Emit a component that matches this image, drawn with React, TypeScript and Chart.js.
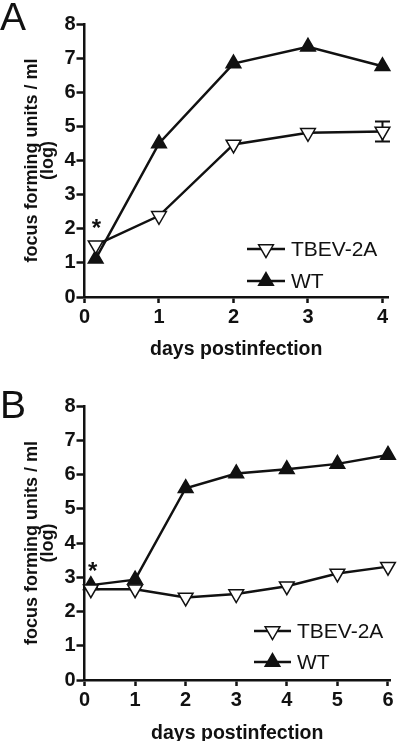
import React, { useEffect, useRef } from "react";
import { Chart, registerables } from "chart.js";
import { drawPoint } from "chart.js/helpers";

Chart.register(...registerables);

// ---------- data ----------
const SERIES_NAMES = ["TBEV-2A", "WT"];
const X_TITLE = "days postinfection";
const Y_TITLE = ["focus forming units / ml", "(log)"];
const Y_TICKS = [0, 1, 2, 3, 4, 5, 6, 7, 8];

const A_DAYS = [0.15, 1, 2, 3, 4];
const A_TBEV = [1.52, 2.38, 4.47, 4.81, 4.85];
const A_TBEV_ERR = [0, 0, 0, 0, 0.29];
const A_WT = [1.12, 4.5, 6.84, 7.33, 6.76];
const A_X_TICKS = [0, 1, 2, 3, 4];
const A_STAR = { x: 0.16, y: 2.2 };

const B_DAYS = [0.125, 1, 2, 3, 4, 5, 6];
const B_TBEV = [2.65, 2.65, 2.41, 2.51, 2.74, 3.11, 3.31];
const B_TBEV_ERR = [0, 0, 0, 0, 0, 0, 0];
const B_WT = [2.77, 2.93, 5.6, 6.03, 6.15, 6.31, 6.57];
const B_X_TICKS = [0, 1, 2, 3, 4, 5, 6];
const B_STAR = { x: 0.16, y: 3.36 };

const FONT = "'Liberation Sans', Arial, Helvetica, sans-serif";
const INK = "#111111";

type PanelProps = {
  days: number[];
  tbev: number[];
  tbevErr: number[];
  wt: number[];
  xTicks: number[];
  star: { x: number; y: number };
  xMax: number;
  top: number;
  padTop: number;
  padRight: number;
  axisH: number;
  legendX: number;
  legendY: number;
  legendLen: number;
  legendGap: number;
  legendTextGap: number;
};

const extrasPlugin = {
  id: "extras",
  beforeDatasetsDraw(chart: any) {
    const ctx = chart.ctx;
    const ys = chart.scales.y;
    chart.data.datasets.forEach((ds: any, di: number) => {
      if (!ds.errors) return;
      const meta = chart.getDatasetMeta(di);
      ds.errors.forEach((e: number, i: number) => {
        if (!e) return;
        const v = ds.data[i].y;
        const x = meta.data[i].x;
        const y1 = ys.getPixelForValue(v + e);
        const y2 = ys.getPixelForValue(v - e);
        ctx.save();
        ctx.strokeStyle = INK;
        ctx.lineWidth = 2;
        ctx.beginPath();
        ctx.moveTo(x, y1);
        ctx.lineTo(x, y2);
        ctx.moveTo(x - 7.5, y1);
        ctx.lineTo(x + 7.5, y1);
        ctx.moveTo(x - 7.5, y2);
        ctx.lineTo(x + 7.5, y2);
        ctx.stroke();
        ctx.restore();
      });
    });
  },
  afterDatasetsDraw(chart: any, _args: any, opts: any) {
    const ctx = chart.ctx;
    const xs = chart.scales.x;
    const ys = chart.scales.y;
    // asterisk
    ctx.save();
    ctx.fillStyle = INK;
    ctx.font = `bold 24px ${FONT}`;
    ctx.textAlign = "center";
    ctx.textBaseline = "alphabetic";
    ctx.fillText("*", xs.getPixelForValue(opts.star.x), ys.getPixelForValue(opts.star.y) + 24 * 0.58);
    ctx.restore();
    // legend
    chart.data.datasets.forEach((ds: any, i: number) => {
      const y = opts.legendY + i * opts.legendGap;
      const x0 = opts.legendX;
      const x1 = x0 + opts.legendLen;
      ctx.save();
      ctx.strokeStyle = INK;
      ctx.lineWidth = 2.5;
      ctx.beginPath();
      ctx.moveTo(x0, y);
      ctx.lineTo(x1, y);
      ctx.stroke();
      ctx.fillStyle = ds.pointBackgroundColor;
      ctx.strokeStyle = INK;
      ctx.lineWidth = ds.pointBorderWidth;
      drawPoint(
        ctx,
        { pointStyle: "triangle", rotation: ds.rotation || 0, radius: ds.pointRadius, borderWidth: ds.pointBorderWidth },
        (x0 + x1) / 2,
        y
      );
      ctx.fillStyle = INK;
      ctx.font = `21px ${FONT}`;
      ctx.textAlign = "left";
      ctx.textBaseline = "middle";
      ctx.fillText(ds.label, x1 + opts.legendTextGap, y + 1);
      ctx.restore();
    });
  },
};

function Panel(p: PanelProps) {
  const ref = useRef<HTMLCanvasElement>(null);
  useEffect(() => {
    if (!ref.current) return;
    const chart = new Chart(ref.current, {
      type: "line",
      data: {
        datasets: [
          {
            label: SERIES_NAMES[0],
            data: p.days.map((d, i) => ({ x: d, y: p.tbev[i] })),
            borderColor: INK,
            borderWidth: 2.5,
            pointStyle: "triangle",
            rotation: 180,
            pointRadius: 8.5,
            pointBackgroundColor: "#ffffff",
            pointBorderColor: INK,
            pointBorderWidth: 1.5,
            clip: false,
            errors: p.tbevErr,
          } as any,
          {
            label: SERIES_NAMES[1],
            data: p.days.map((d, i) => ({ x: d, y: p.wt[i] })),
            borderColor: INK,
            borderWidth: 2.5,
            pointStyle: "triangle",
            rotation: 0,
            pointRadius: 8.5,
            pointBackgroundColor: INK,
            pointBorderColor: INK,
            pointBorderWidth: 1.5,
            clip: false,
          } as any,
        ],
      },
      options: {
        responsive: false,
        animation: false,
        layout: { padding: { top: p.padTop, right: p.padRight, left: 0, bottom: 0 } },
        plugins: {
          legend: { display: false },
          tooltip: { enabled: false },
          extras: {
            star: p.star,
            legendX: p.legendX,
            legendY: p.legendY,
            legendLen: p.legendLen,
            legendGap: p.legendGap,
            legendTextGap: p.legendTextGap,
          },
        } as any,
        scales: {
          x: {
            type: "linear",
            min: 0,
            max: p.xMax,
            afterBuildTicks: (s: any) => {
              s.ticks = p.xTicks.map((v) => ({ value: v }));
            },
            afterFit: (s: any) => {
              s.height = p.axisH;
            },
            ticks: {
              color: INK,
              padding: 2,
              font: { family: FONT, size: 20, weight: "bold" },
              callback: (v: any) => String(v),
            },
            grid: { display: true, drawOnChartArea: false, drawTicks: true, tickLength: 6, tickWidth: 2.5, tickColor: INK },
            border: { display: true, color: INK, width: 2.5 },
            title: {
              display: true,
              text: X_TITLE,
              color: INK,
              font: { family: FONT, size: 19.5, weight: "bold", lineHeight: 1.2 },
              padding: { top: 0, bottom: 9 },
            },
          },
          y: {
            type: "linear",
            min: 0,
            max: 8,
            afterBuildTicks: (s: any) => {
              s.ticks = Y_TICKS.map((v) => ({ value: v }));
            },
            afterFit: (s: any) => {
              s.width = 84.5;
            },
            ticks: {
              color: INK,
              padding: 1,
              font: { family: FONT, size: 20, weight: "bold" },
              callback: (v: any) => String(v),
            },
            grid: { display: true, drawOnChartArea: false, drawTicks: true, tickLength: 8, tickWidth: 2.5, tickColor: INK },
            border: { display: true, color: INK, width: 2.5 },
            title: {
              display: true,
              text: Y_TITLE,
              color: INK,
              font: { family: FONT, size: 18, weight: "bold", lineHeight: 16 / 18 },
              padding: { top: 24, bottom: 0 },
            },
          },
        },
      } as any,
      plugins: [extrasPlugin],
    });
    return () => chart.destroy();
  }, []);
  return (
    <canvas
      ref={ref}
      width={400}
      height={370}
      style={{ position: "absolute", left: 0, top: p.top, width: 400, height: 370 }}
    />
  );
}

export default function App() {
  return (
    <div
      style={{
        position: "fixed",
        left: 0,
        top: 0,
        width: 400,
        height: 741,
        overflow: "hidden",
        background: "#ffffff",
      }}
    >
      <Panel
        days={A_DAYS}
        tbev={A_TBEV}
        tbevErr={A_TBEV_ERR}
        wt={A_WT}
        xTicks={A_X_TICKS}
        star={A_STAR}
        xMax={4.074}
        top={0}
        padTop={24}
        padRight={12}
        axisH={73}
        legendX={247}
        legendY={249}
        legendLen={38}
        legendGap={32}
        legendTextGap={6}
      />
      <Panel
        days={B_DAYS}
        tbev={B_TBEV}
        tbevErr={B_TBEV_ERR}
        wt={B_WT}
        xTicks={B_X_TICKS}
        star={B_STAR}
        xMax={6.04}
        top={384}
        padTop={22}
        padRight={7}
        axisH={74}
        legendX={254}
        legendY={247}
        legendLen={37}
        legendGap={31}
        legendTextGap={6}
      />
      <div
        style={{
          position: "absolute",
          left: 0,
          top: -3,
          font: `39px ${FONT}`,
          lineHeight: 1,
          color: INK,
        }}
      >
        A
      </div>
      <div
        style={{
          position: "absolute",
          left: 0,
          top: 385,
          font: `39px ${FONT}`,
          lineHeight: 1,
          color: INK,
        }}
      >
        B
      </div>
    </div>
  );
}
